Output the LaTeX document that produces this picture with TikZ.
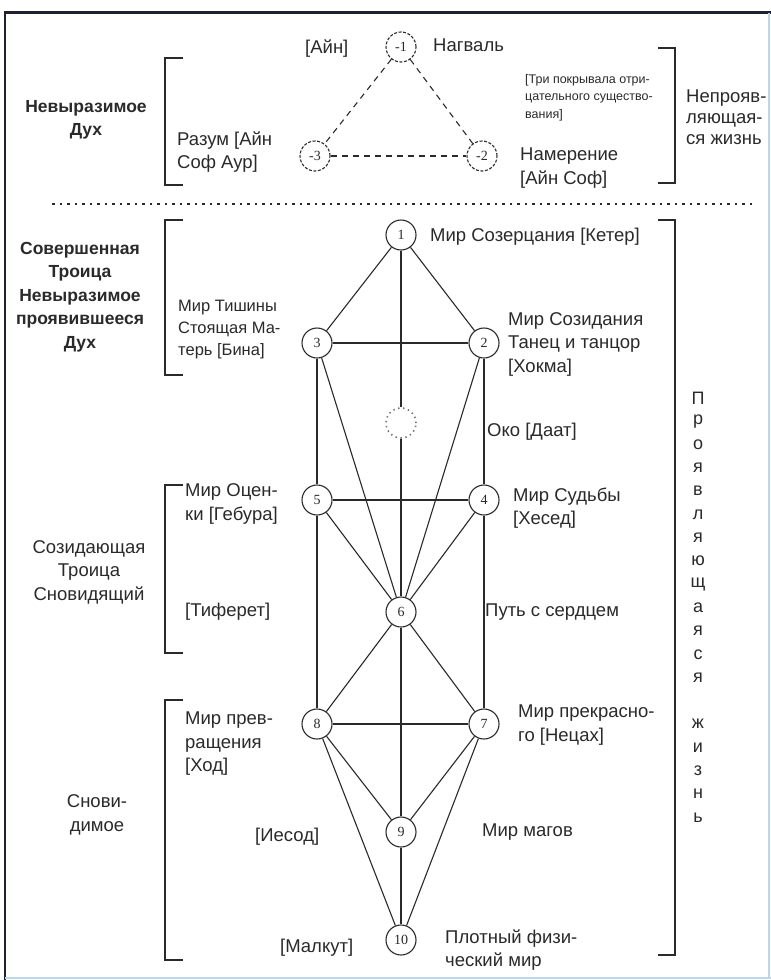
\documentclass[tikz,border=0pt]{standalone}
\usepackage{fontspec}
\setmainfont{Liberation Sans}
\newfontfamily\numfont{Liberation Serif}
\definecolor{frameD}{HTML}{1E2230}
\definecolor{frameL}{HTML}{BCD6EA}
\definecolor{ink}{HTML}{2A2A2A}
\begin{document}
\begin{tikzpicture}[x=1pt,y=-1pt,
  ln/.style={draw=ink, line width=1.1pt},
  hidln/.style={draw=ink, line width=1.1pt, dash pattern=on 6pt off 5pt},
  sef/.style={circle, draw=ink, line width=1.1pt, minimum size=30pt, inner sep=0pt, fill=white,
    font=\numfont\fontsize{14}{14}\selectfont, text=ink},
  hidsef/.style={sef, dash pattern=on 3pt off 1.6pt},
  daatsef/.style={sef, draw=black!55, line width=1.6pt, dash pattern=on 1.4pt off 3.6pt},
  lbl/.style={anchor=west, inner sep=0pt, align=left, text=ink, font=\fontsize{18.5}{23.5}\selectfont},
  small/.style={lbl, font=\fontsize{12.5}{17.5}\selectfont},
  mid/.style={lbl, font=\fontsize{16.5}{22}\selectfont},
  side/.style={inner sep=0pt, align=center, text=ink, font=\fontsize{18.5}{23.5}\selectfont},
  sidebold/.style={side, font=\bfseries\fontsize{17.5}{23.5}\selectfont},
  vlet/.style={inner sep=0pt, text=ink, font=\fontsize{18}{18}\selectfont},
  brk/.style={draw=ink, line width=1.1pt},
  sep/.style={draw=ink, line width=1.6pt, dash pattern=on 2.5pt off 5pt}
]
\fill[white] (0,0) rectangle (771,980);
\useasboundingbox (0,0) rectangle (771,980);
% frame
\draw[frameD, line width=2.6pt] (5,980) -- (5,12.5) -- (771,12.5);
\draw[frameL, line width=2pt] (5,978) -- (771,978);
\draw[frameL, line width=1.5pt] (769,12.5) -- (769,978);

% ---------- upper triangle ----------
\node[hidsef] (m1) at (401,47) {-1};
\node[hidsef] (m3) at (315,156) {-3};
\node[hidsef] (m2) at (482,156) {-2};
\draw[hidln] (m1) -- (m3);
\draw[hidln] (m1) -- (m2);
\draw[hidln] (m3) -- (m2);

\node[lbl] (ain) at (305,49) {[Айн]};
\node[lbl] (nagval) at (433,45) {Нагваль};
\node[small] (veils) at (525,97.5) {[Три покрывала отри-\\цательного существо-\\вания]};
\node[lbl] (razum) at (177,152) {Разум [Айн\\Соф Аур]};
\node[lbl] (namer) at (520,168) {Намерение\\{[}Айн Соф]};
\node[lbl, font=\fontsize{18.5}{21}\selectfont] (neproyav) at (686,117) {Непрояв-\\ляющая-\\ся жизнь};
\node[sidebold] (nevyr) at (86,120) {Невыразимое\\Дух};

% brackets upper
\draw[brk] (183,58) -- (165,58) -- (165,185) -- (183,185);
\draw[brk] (658,48) -- (675,48) -- (675,183) -- (658,183);

% separator
\coordinate (sepL) at (52,204);
\coordinate (sepR) at (756,204);
\draw[sep] (sepL) -- (sepR);

% ---------- tree ----------
\node[sef] (s1) at (401,235) {1};
\node[sef] (s3) at (317,343) {3};
\node[sef] (s2) at (484,343) {2};
\node[daatsef] (sd) at (401,423) {};
\node[sef] (s5) at (317,500) {5};
\node[sef] (s4) at (484,500) {4};
\node[sef] (s6) at (401,612) {6};
\node[sef] (s8) at (317,724) {8};
\node[sef] (s7) at (484,724) {7};
\node[sef] (s9) at (401,832) {9};
\node[sef] (s10) at (401,940) {10};

\draw[ln] (s1) -- (s3);
\draw[ln] (s1) -- (s2);
\draw[ln] (s1) -- (sd);
\draw[ln] (sd) -- (s6);
\draw[ln] (s3) -- (s2);
\draw[ln] (s3) -- (s5);
\draw[ln] (s3) -- (s6);
\draw[ln] (s2) -- (s4);
\draw[ln] (s2) -- (s6);
\draw[ln] (s5) -- (s4);
\draw[ln] (s5) -- (s6);
\draw[ln] (s4) -- (s6);
\draw[ln] (s5) -- (s8);
\draw[ln] (s4) -- (s7);
\draw[ln] (s6) -- (s8);
\draw[ln] (s6) -- (s7);
\draw[ln] (s8) -- (s7);
\draw[ln] (s8) -- (s9);
\draw[ln] (s7) -- (s9);
\draw[ln] (s8) -- (s10);
\draw[ln] (s7) -- (s10);
\draw[ln] (s6) -- (s9);
\draw[ln] (s9) -- (s10);

% labels right
\node[lbl] (keter) at (430,237) {Мир Созерцания [Кетер]};
\node[lbl] (hokma) at (508,344) {Мир Созидания\\Танец и танцор\\{[}Хокма]};
\node[lbl] (daat) at (487,432) {Око [Даат]};
\node[lbl] (hesed) at (513,508) {Мир Судьбы\\{[}Хесед]};
\node[lbl] (put) at (485,612) {Путь с сердцем};
\node[lbl] (netsah) at (518,725) {Мир прекрасно-\\го [Нецах]};
\node[lbl] (magov) at (482,832) {Мир магов};
\node[lbl] (plot) at (445,950) {Плотный физи-\\ческий мир};

% labels left
\node[mid] (bina) at (178,330) {Мир Тишины\\Стоящая Ма-\\терь [Бина]};
\node[lbl] (gebura) at (185,504) {Мир Оцен-\\ки [Гебура]};
\node[lbl] (tiferet) at (185,612) {[Тиферет]};
\node[lbl] (hod) at (185,744) {Мир прев-\\ращения\\{[}Ход]};
\node[lbl] (iesod) at (255,837) {[Иесод]};
\node[lbl] (malkut) at (280,948) {[Малкут]};

% side labels
\node[sidebold] (sov) at (80,297) {Совершенная\\Троица\\Невыразимое\\проявившееся\\Дух};
\node[side] (sozid) at (89,572) {Созидающая\\Троица\\Сновидящий};
\node[side] (snovi) at (97,815) {Снови-\\димое};

% brackets left
\draw[brk] (183,220) -- (165,220) -- (165,375) -- (183,375);
\draw[brk] (183,485) -- (165,485) -- (165,653) -- (183,653);
\draw[brk] (183,700) -- (165,700) -- (165,960) -- (183,960);
% bracket right
\draw[brk] (658,220) -- (675,220) -- (675,955) -- (658,955);

% vertical text
\foreach \c/\k in {П/0,р/1,о/2,я/3,в/4,л/5,я/6,ю/7,щ/8,а/9,я/10,с/11,я/12,ж/14,и/15,з/16,н/17,ь/18}
  \node[vlet] (v\k) at (698,{398+23.3*\k}) {\c};
\end{tikzpicture}
\end{document}
